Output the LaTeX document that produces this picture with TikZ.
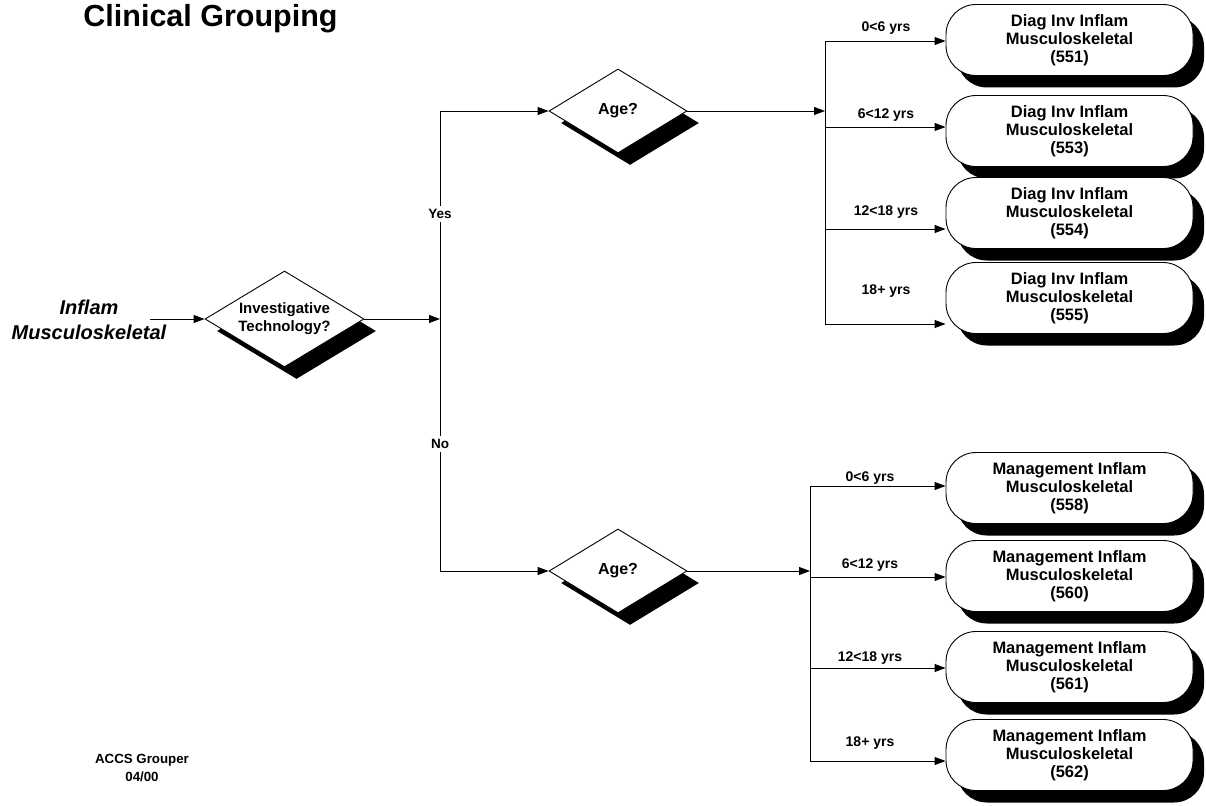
\documentclass[tikz,border=0pt]{standalone}
\usepackage{fontspec}
\setmainfont{Liberation Sans}
\usetikzlibrary{shapes.geometric,arrows.meta,shadows}
\begin{document}
\begin{tikzpicture}[x=1pt,y=-1pt,
  line width=0.9pt,
  arr/.style={-{Triangle[length=11pt,width=8pt]}},
  term/.style={draw, fill=white, rounded corners=30pt, minimum width=247pt,
    minimum height=71pt, inner sep=0pt, align=center,
    font=\fontsize{16.5}{18}\selectfont\bfseries,
    drop shadow={shadow xshift=11pt, shadow yshift=-12pt, fill=black, opacity=1}},
  dec/.style={diamond, draw, fill=white, inner sep=0pt, align=center,
    shape aspect=1.65,
    font=\fontsize{15}{18}\selectfont\bfseries,
    drop shadow={shadow xshift=12pt, shadow yshift=-12pt, fill=black, opacity=1}},
  lab/.style={font=\fontsize{14}{16}\selectfont\bfseries, inner sep=1pt},
  yn/.style={font=\fontsize{13.5}{15}\selectfont\bfseries, fill=white, inner xsep=2pt, inner ysep=3.5pt}]
\useasboundingbox (0,0) rectangle (1206,805);

% title and footer
\node[font=\fontsize{30.5}{36}\selectfont\bfseries, anchor=base] (title) at (210.5,27) {Clinical Grouping};
\node[font=\fontsize{13.3}{18}\selectfont\bfseries, align=center] (accs) at (142,768) {ACCS Grouper\\04/00};

% source
\node[font=\fontsize{20}{25}\selectfont\bfseries\itshape, align=center] (src) at (89,320) {Inflam\\Musculoskeletal};
\coordinate (in) at (150,319);

% decisions
\node[dec, minimum width=159pt, minimum height=96pt] (d1) at (284.5,319) {Investigative\\Technology?};
\node[dec, minimum width=138pt, minimum height=84pt, font=\fontsize{16}{18}\selectfont\bfseries] (a1) at (618,111) {Age?};
\node[dec, minimum width=138pt, minimum height=84pt, font=\fontsize{16}{18}\selectfont\bfseries] (a2) at (618,571) {Age?};

% terminals
\node[term] (b551) at (1069.5,40) {Diag Inv Inflam\\Musculoskeletal\\(551)};
\node[term] (b553) at (1069.5,131) {Diag Inv Inflam\\Musculoskeletal\\(553)};
\node[term] (b554) at (1069.5,213) {Diag Inv Inflam\\Musculoskeletal\\(554)};
\node[term] (b555) at (1069.5,298) {Diag Inv Inflam\\Musculoskeletal\\(555)};
\node[term] (b558) at (1069.5,488) {Management Inflam\\Musculoskeletal\\(558)};
\node[term] (b560) at (1069.5,576) {Management Inflam\\Musculoskeletal\\(560)};
\node[term] (b561) at (1069.5,667) {Management Inflam\\Musculoskeletal\\(561)};
\node[term] (b562) at (1069.5,755) {Management Inflam\\Musculoskeletal\\(562)};

% main connectors
\draw[arr] (in) -- (d1.west);
\coordinate (m) at (440,319);
\coordinate (mt) at (440,111);
\coordinate (mb) at (440,571);
\draw[arr] (d1.east) -- (m);
\draw (mt) -- (mb);
\draw[arr] (mt) -- (a1.west);
\draw[arr] (mb) -- (a2.west);
\node[yn] (yes) at (440,214) {Yes};
\node[yn] (no) at (440,444) {No};

% top bus
\coordinate (t0) at (825,111);
\coordinate (t1) at (825,41);
\coordinate (t2) at (825,127);
\coordinate (t3) at (825,229);
\coordinate (t4) at (825,324);
\draw[arr] (a1.east) -- (t0);
\draw (t1) -- (t4);
\draw[arr] (t1) -- (t1 -| b551.west);
\draw[arr] (t2) -- (t2 -| b553.west);
\draw[arr] (t3) -- (t3 -| b554.west);
\draw[arr] (t4) -- (t4 -| b555.west);
\node[lab] (l1) at (886,28) {0<6 yrs};
\node[lab] (l2) at (886,115) {6<12 yrs};
\node[lab] (l3) at (886,212) {12<18 yrs};
\node[lab] (l4) at (886,291) {18+ yrs};

% bottom bus
\coordinate (u0) at (810,571);
\coordinate (u1) at (810,486);
\coordinate (u2) at (810,577);
\coordinate (u3) at (810,668);
\coordinate (u4) at (810,761);
\draw[arr] (a2.east) -- (u0);
\draw (u1) -- (u4);
\draw[arr] (u1) -- (u1 -| b558.west);
\draw[arr] (u2) -- (u2 -| b560.west);
\draw[arr] (u3) -- (u3 -| b561.west);
\draw[arr] (u4) -- (u4 -| b562.west);
\node[lab] (k1) at (870,478) {0<6 yrs};
\node[lab] (k2) at (870,565) {6<12 yrs};
\node[lab] (k3) at (870,658) {12<18 yrs};
\node[lab] (k4) at (870,743) {18+ yrs};
\end{tikzpicture}
\end{document}
